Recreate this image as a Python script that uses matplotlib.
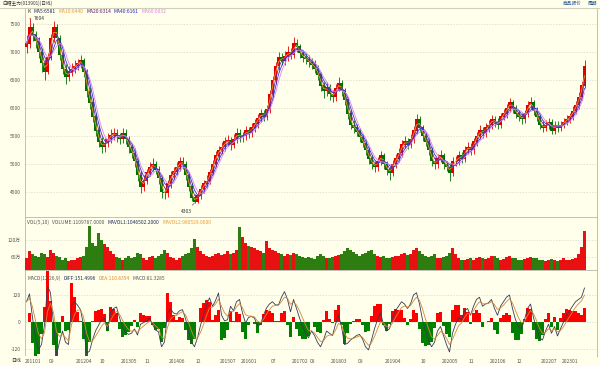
import numpy as np
import pandas as pd
import matplotlib
matplotlib.use('Agg')
import matplotlib.pyplot as plt

plt.rcParams['font.family'] = ['Noto Sans CJK SC', 'DejaVu Sans']

title = '白糖主力(013901)(日线)'
top_links = ['商品报价', '周期']

close = [7150, 7450, 7300, 7200, 7000, 6800, 6650, 6900, 7250, 7450,
         7250, 6950, 6700, 6550, 6650, 6700, 6750, 6800, 6850, 6650,
         6300, 6100, 5850, 5600, 5400, 5300, 5380, 5450, 5520, 5550,
         5500, 5450, 5550, 5450, 5300, 5200, 5050, 4800, 4600, 4700,
         4850, 4950, 5000, 4900, 4750, 4500, 4480, 4650, 4800, 4870,
         4950, 5050, 5000, 4800, 4600, 4400, 4330, 4450, 4550, 4650,
         4700, 4850, 5000, 5150, 5250, 5300, 5400, 5420, 5350, 5450,
         5550, 5480, 5500, 5600, 5550, 5650, 5720, 5820, 5900, 5850,
         5980, 6250, 6500, 6750, 6900, 6850, 6920, 7000, 6950, 7150,
         7100, 6980, 6900, 6880, 6820, 6780, 6700, 6600, 6400, 6300,
         6380, 6250, 6200, 6350, 6450, 6300, 6150, 5900, 5700, 5650,
         5580, 5480, 5380, 5250, 5100, 5000, 4950, 5050, 5150, 5000,
         4900, 4850, 5000, 5100, 5200, 5350, 5400, 5350, 5450, 5600,
         5800, 5650, 5500, 5400, 5250, 5050, 5000, 5100, 5150, 5000,
         4950, 4850, 5050, 5050, 5150, 5100, 5250, 5300, 5250, 5400,
         5500, 5600, 5550, 5650, 5700, 5800, 5750, 5700, 5850, 5900,
         6000, 6100, 6000, 5900, 5850, 5800, 5900, 6050, 6100, 5950,
         5850, 5700, 5650, 5700, 5750, 5600, 5700, 5650, 5700, 5750,
         5800, 5850, 5950, 6050, 6200, 6400, 6750]

open_ = [7100, 7150, 7450, 7300, 7200, 7000, 6800, 6650, 6900, 7250,
         7450, 7250, 6950, 6700, 6550, 6650, 6700, 6750, 6800, 6850,
         6650, 6300, 6100, 5850, 5600, 5400, 5300, 5380, 5450, 5520,
         5550, 5500, 5450, 5550, 5450, 5300, 5200, 5050, 4800, 4600,
         4700, 4850, 4950, 5000, 4900, 4750, 4500, 4480, 4650, 4800,
         4870, 4950, 5050, 5000, 4800, 4600, 4400, 4330, 4450, 4550,
         4650, 4700, 4850, 5000, 5150, 5250, 5300, 5400, 5420, 5350,
         5450, 5550, 5480, 5500, 5600, 5550, 5650, 5720, 5820, 5900,
         5850, 5980, 6250, 6500, 6750, 6900, 6850, 6920, 7000, 6950,
         7150, 7100, 6980, 6900, 6880, 6820, 6780, 6700, 6600, 6400,
         6300, 6380, 6250, 6200, 6350, 6450, 6300, 6150, 5900, 5700,
         5650, 5580, 5480, 5380, 5250, 5100, 5000, 4950, 5050, 5150,
         5000, 4900, 4850, 5000, 5100, 5200, 5350, 5400, 5350, 5450,
         5600, 5800, 5650, 5500, 5400, 5250, 5050, 5000, 5100, 5150,
         5000, 4950, 4850, 5050, 5050, 5150, 5100, 5250, 5300, 5250,
         5400, 5500, 5600, 5550, 5650, 5700, 5800, 5750, 5700, 5850,
         5900, 6000, 6100, 6000, 5900, 5850, 5800, 5900, 6050, 6100,
         5950, 5850, 5700, 5650, 5700, 5750, 5600, 5700, 5650, 5700,
         5750, 5800, 5850, 5950, 6050, 6200, 6400]

high = [7300, 7604, 7520, 7380, 7260, 7080, 6880, 6980, 7330, 7560,
        7500, 7300, 7000, 6780, 6750, 6800, 6850, 6880, 6950, 6900,
        6700, 6380, 6180, 5920, 5680, 5480, 5460, 5550, 5620, 5650,
        5630, 5560, 5650, 5620, 5500, 5360, 5280, 5100, 4880, 4800,
        4920, 5030, 5100, 5060, 4960, 4800, 4580, 4720, 4880, 4950,
        5030, 5130, 5120, 5060, 4860, 4660, 4460, 4520, 4630, 4720,
        4800, 4920, 5080, 5230, 5330, 5400, 5480, 5520, 5480, 5530,
        5640, 5620, 5580, 5680, 5660, 5730, 5800, 5900, 5990, 5960,
        6060, 6330, 6580, 6830, 7000, 6980, 7020, 7100, 7080, 7270,
        7230, 7150, 7040, 6980, 6950, 6890, 6850, 6760, 6650, 6460,
        6460, 6430, 6320, 6420, 6560, 6500, 6360, 6200, 5960, 5780,
        5720, 5650, 5540, 5440, 5300, 5160, 5060, 5120, 5230, 5200,
        5060, 4960, 5080, 5180, 5280, 5430, 5500, 5460, 5530, 5680,
        5890, 5850, 5700, 5560, 5460, 5300, 5120, 5180, 5250, 5200,
        5060, 5000, 5120, 5150, 5230, 5220, 5320, 5390, 5370, 5470,
        5580, 5690, 5670, 5730, 5790, 5880, 5860, 5820, 5920, 5990,
        6080, 6180, 6150, 6060, 5960, 5910, 5970, 6130, 6200, 6150,
        6010, 5900, 5760, 5780, 5830, 5800, 5770, 5760, 5770, 5820,
        5870, 5920, 6030, 6130, 6290, 6480, 6850]

low = [6980, 7080, 7200, 7080, 6900, 6650, 6500, 6600, 6850, 7180,
       7150, 6850, 6600, 6420, 6480, 6580, 6620, 6680, 6720, 6550,
       6200, 5980, 5750, 5500, 5300, 5200, 5220, 5300, 5380, 5430,
       5400, 5350, 5380, 5360, 5200, 5100, 4950, 4700, 4480, 4520,
       4640, 4780, 4880, 4820, 4650, 4400, 4380, 4420, 4580, 4740,
       4800, 4880, 4920, 4720, 4520, 4340, 4303, 4310, 4380, 4480,
       4580, 4640, 4800, 4940, 5080, 5180, 5230, 5320, 5250, 5280,
       5380, 5400, 5400, 5430, 5470, 5480, 5580, 5650, 5750, 5770,
       5780, 5920, 6180, 6430, 6680, 6760, 6770, 6840, 6870, 6900,
       7000, 6900, 6820, 6780, 6740, 6700, 6620, 6500, 6300, 6180,
       6220, 6150, 6100, 6130, 6300, 6220, 6050, 5800, 5620, 5560,
       5500, 5400, 5300, 5160, 5000, 4920, 4850, 4880, 4980, 4920,
       4800, 4720, 4780, 4930, 5030, 5130, 5280, 5270, 5280, 5380,
       5530, 5570, 5420, 5320, 5160, 4960, 4920, 4930, 5030, 4920,
       4870, 4700, 4780, 4970, 4980, 5020, 5040, 5180, 5170, 5180,
       5330, 5440, 5470, 5480, 5580, 5630, 5670, 5620, 5640, 5780,
       5830, 5930, 5920, 5820, 5770, 5720, 5730, 5840, 5980, 5880,
       5770, 5620, 5570, 5590, 5630, 5530, 5540, 5580, 5590, 5640,
       5690, 5740, 5790, 5890, 5990, 6150, 6350]

# volume in 万手
volume = [55, 80, 70, 65, 60, 75, 70, 60, 85, 75, 65, 60,
          50, 55, 45, 50, 48, 55, 60, 65,
          95, 170, 110, 100, 145, 120, 105, 95,
          80, 70, 60, 55, 50, 58, 62, 55,
          60, 75, 70, 55, 50, 60, 65, 58, 62, 70,
          85, 75, 60, 55, 50, 58, 65, 70, 75, 90, 125,
          95, 80, 70, 65, 60, 62, 70, 75, 68, 72, 80, 70, 75, 85,
          165, 130, 110, 100, 95, 90, 85, 80, 75, 115,
          90, 85, 80, 75, 70, 65, 72, 68, 75, 70, 62, 60,
          55, 60, 58, 52, 65, 70, 62, 58, 55, 60, 65, 68, 72, 80, 90, 85, 78, 70,
          65, 70, 75, 80, 85, 70, 65, 60, 62, 58, 55, 60, 62, 65, 70, 75, 68, 72, 85, 90,
          80, 70, 65, 60, 62, 70, 58, 55, 60, 65, 75, 90, 70, 55, 50, 48, 52, 55, 50, 58,
          60, 55, 52, 58, 62, 65, 55, 50, 52, 60, 65, 58, 55, 50, 48, 52, 55, 60, 58, 55,
          50, 48, 45, 50, 52, 48, 45, 50, 55, 50, 48, 52, 58, 70, 95, 150]

diff = [90, 125, 20, -70, -124, -100, -13, 160, 130, -10,
        -147, -89, -40, -90, -100, 76, 90, 75, 55, -13,
        -138, -130, -80, -40, -15, 10, 15, -40, 40, 60,
        67, 20, -25, -45, -55, -50, -31, -58, -10, -3,
        5, 18, -10, -35, -44, -110, -89, 40, 58, 40,
        35, 50, 55, 15, -40, -89, -110, -70, -15, 30,
        76, 107, 70, 95, 129, 31, 5, 10, 70, 50,
        90, 100, 40, -5, 20, 25, 18, -20, -10, 30,
        62, 80, 90, 76, 76, 110, 135, 100, 45, 100,
        60, 18, -20, -50, -70, -40, -60, -90, -110, -80,
        -40, -50, -60, -10, 30, -20, -100, -95, -80, -70,
        -60, -55, -75, -110, -124, -80, -30, 10, 40, -10,
        -40, -30, 20, 50, 70, 90, 80, 60, 80, 120,
        130, 80, 10, -40, -80, -110, -90, -40, -20, -60,
        -100, -133, -50, -10, 20, 10, 50, 60, 30, 70,
        100, 110, 70, 80, 85, 100, 60, 30, 70, 90,
        110, 120, 60, 10, -20, -30, 10, 60, 80, 20,
        -30, -70, -80, -40, -10, -50, -20, -62, -30, 0,
        30, 50, 70, 90, 100, 110, 151]

tick_labels = ['201101', '09', '201204', '10', '201305', '11', '201406', '12',
               '201507', '201601', '07', '201702', '08', '201803', '09', '201904',
               '10', '202005', '11', '202106', '12', '202207', '202301']
tick_idx = [0, 8, 17, 25, 32, 40, 48, 57, 65, 72, 82, 89, 95, 102, 111, 120,
            132, 139, 148, 155, 164, 172, 179]

legend_k = [('MA5:6581', '#1a2a55'), ('MA10:6440', '#e89a30'), ('MA20:6314', '#5a1a70'),
            ('MA40:6161', '#2222c0'), ('MA60:6032', '#e080e0')]
vol_legend = [('VOL(5,10)', '#555555'), ('VOLUME:1109787.0000', '#555555'),
              ('MAVOL1:1046502.2000', '#1a2a55'), ('MAVOL2:980529.0000', '#e89a30')]
macd_legend = [('MACD(12,26,9)', '#555555'), ('DIFF:151.4996', '#1a2a55'),
               ('DEA:110.8354', '#e08a20'), ('MACD:81.3285', '#555555')]

# ---------------------------------------------------------------
BG = '#FFFFEC'
W, H = 600, 366
fig = plt.figure(figsize=(6, 3.66), dpi=100, facecolor=BG)


def rect(x0, y0, x1, y1):
    return [x0 / W, 1 - y1 / H, (x1 - x0) / W, (y1 - y0) / H]


def fx(x):
    return x / W


def fy(y):
    return 1 - y / H


n = len(close)
x = np.arange(n)
c = np.array(close, float)
o = np.array(open_, float)
hi = np.array(high, float)
lo = np.array(low, float)
up = c >= o
xlim = (-0.5, (597 - 25) / 3 - 0.5)
SP = '#B8B8A8'
TXT = '#555555'
FS = 3.5


def style(ax):
    ax.set_facecolor(BG)
    for s in ax.spines.values():
        s.set_color(SP)
        s.set_linewidth(0.6)
    ax.set_xlim(*xlim)
    ax.set_xticks([])
    ax.tick_params(axis='y', length=0, pad=3, labelsize=FS, labelcolor=TXT)
    ax.grid(axis='y', color='#D8D8C8', linestyle=(0, (2, 2)), linewidth=0.5)
    ax.set_axisbelow(True)


# ---- main price panel
ax1 = fig.add_axes(rect(25, 8, 597, 217))
style(ax1)
ax1.set_ylim(4054, 7786)
ax1.set_yticks([4500, 5000, 5500, 6000, 6500, 7000, 7500])
ax1.set_yticklabels(['4500', '5000', '5500', '6000', '6500', '7000', '7500'])
cols = np.where(up, '#E00000', '#007000')
ax1.vlines(x, lo, hi, colors=cols, linewidth=0.6, zorder=3)
ax1.bar(x, np.abs(c - o) + 8, bottom=np.minimum(c, o) - 4, width=0.72,
        color=cols, linewidth=0, zorder=3)
cs = pd.Series(c)
ma_cfg = [(2, '#e89a30'), (3, '#6a2a90'), (4, '#3333dd'), (5, '#e080f0')]
for w_, col in ma_cfg:
    ax1.plot(x, cs.rolling(w_, min_periods=1).mean(), color=col, lw=0.6, zorder=4)
imax = int(np.argmax(hi))
imin = int(np.argmin(lo))
ax1.annotate('7604', xy=(imax, hi[imax]), xytext=(imax + 1.4, hi[imax] - 10),
             fontsize=FS, color='#333333', va='center', ha='left',
             arrowprops=dict(arrowstyle='-', color='#333333', lw=0.4,
                             shrinkA=0.5, shrinkB=0))
ax1.annotate('4303', xy=(imin, lo[imin]), xytext=(imin - 1.0, 4160),
             fontsize=FS, color='#333333', va='center', ha='right',
             arrowprops=dict(arrowstyle='-', color='#333333', lw=0.4,
                             shrinkA=0.5, shrinkB=0))

# ---- volume panel
ax2 = fig.add_axes(rect(25, 217, 597, 270))
style(ax2)
ax2.set_ylim(14, 201)
ax2.set_yticks([60, 120])
ax2.set_yticklabels(['60万', '120万'])
ax2.bar(x, np.array(volume, float) - 14, bottom=14, width=1.0,
        color=np.where(up, '#E81010', '#2E7D10'), linewidth=0, zorder=3)

# ---- MACD panel
ax3 = fig.add_axes(rect(25, 270, 597, 356))
style(ax3)
ax3.set_ylim(-151, 231)
ax3.set_yticks([-120, 0, 120])
ax3.set_yticklabels(['-120', '0', '120'])
d = pd.Series(diff, dtype=float)
dea = d.ewm(alpha=0.45, adjust=False).mean()
hist = 2 * (d - dea)
ax3.bar(x, hist, width=0.75, color=np.where(hist >= 0, '#FF0000', '#008000'),
        linewidth=0, zorder=3)
ax3.plot(x, d, color='#3a3a55', lw=0.6, zorder=4)
ax3.plot(x, dea, color='#d08a3a', lw=0.6, zorder=4)

# ---- bottom date axis
ax4 = fig.add_axes(rect(25, 356, 597, 366))
ax4.set_facecolor(BG)
ax4.set_xlim(*xlim)
ax4.set_ylim(0, 1)
ax4.set_xticks([])
ax4.set_yticks([])
for s in ax4.spines.values():
    s.set_visible(False)
for ti, tl in zip(tick_idx, tick_labels):
    ax4.text(ti - 0.5, 0.45, tl, fontsize=FS, color=TXT, ha='left', va='center')
fig.text(fx(11), fy(361), '日线', fontsize=FS, color='#333333', ha='left', va='center')

# ---- header
fig.add_artist(plt.Line2D([0, 1], [fy(7.5), fy(7.5)], color='#CFCFC0', lw=0.8))
fig.text(fx(2), fy(3.5), title, fontsize=3.4, color='#333333', ha='left', va='center')
fig.text(fx(582), fy(3.5), top_links[0], fontsize=3.4, color='#2a5a9a', ha='right', va='center')
fig.text(fx(597), fy(3.5), top_links[1], fontsize=3.4, color='#2a5a9a', ha='right', va='center')


# legends (inline coloured text)
def inline(x0, y0, items, gap=3.0):
    r = fig.canvas.get_renderer()
    xp = x0
    for s, col in items:
        t = fig.text(fx(xp), fy(y0), s, fontsize=FS, color=col, ha='left', va='center')
        bb = t.get_window_extent(renderer=r)
        xp += bb.width + gap


inline(27, 11.5, [('K', '#333333')] + legend_k)
inline(27, 222, vol_legend)
inline(27, 278, macd_legend)

fig.savefig('out.png', dpi=100, facecolor=BG)
